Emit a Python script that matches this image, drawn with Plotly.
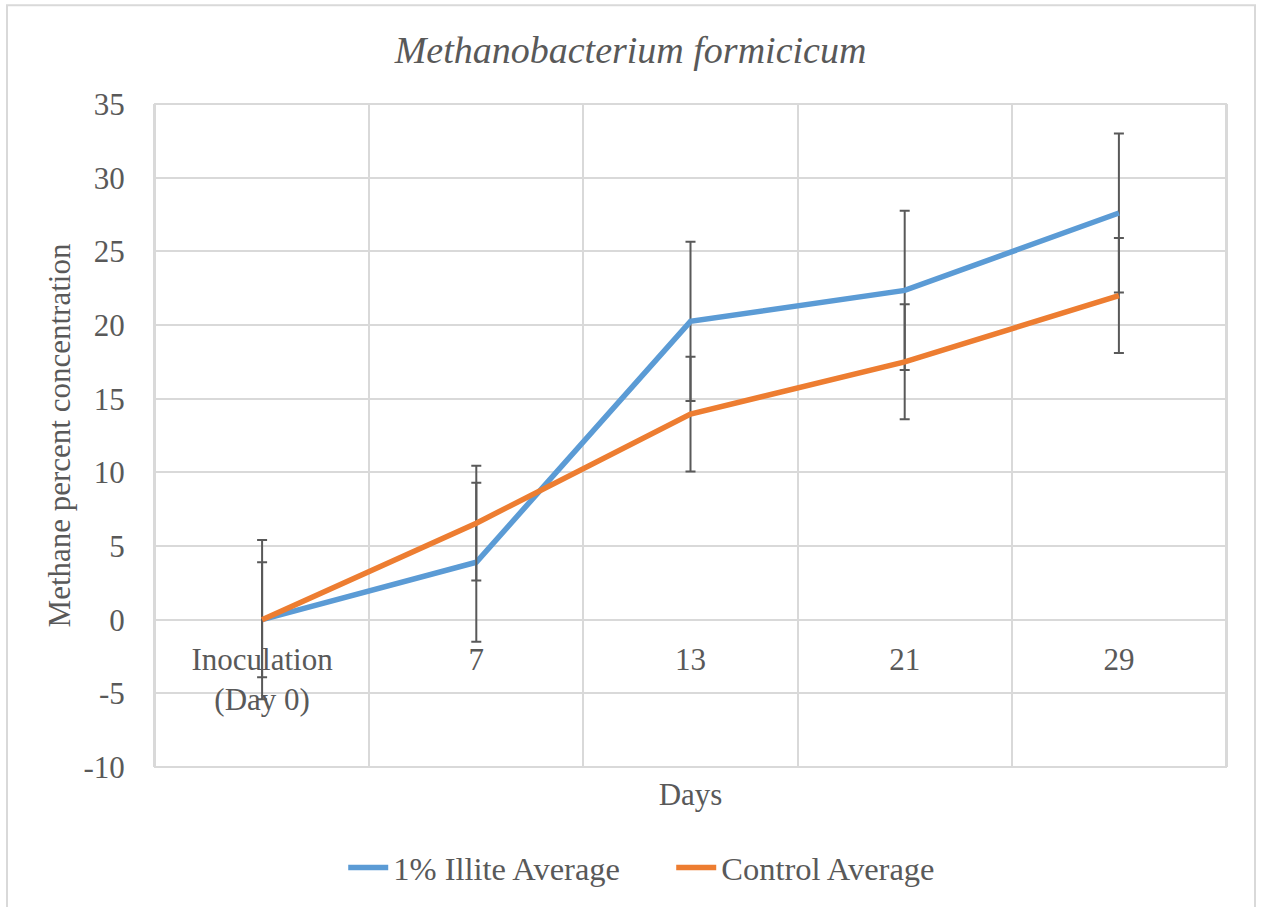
import plotly.graph_objects as go

categories = ["Inoculation<br>(Day 0)", "7", "13", "21", "29"]
illite_avg = [0.0, 3.9, 20.25, 22.35, 27.6]
control_avg = [0.0, 6.55, 13.95, 17.5, 22.0]
illite_err = 5.4
control_err = 3.9
y_ticks = [-10, -5, 0, 5, 10, 15, 20, 25, 30, 35]
y_tick_text = ["-10", "-5", "0", "5", "10", "15", "20", "25", "30", "35"]

y_min, y_max = -10, 35
font_fam = "Liberation Serif"
txt = "#595959"
grid = "#d9d9d9"

fig = go.Figure()
fig.add_trace(go.Scatter(
    x=categories, y=illite_avg, mode="lines", name="1% Illite Average",
    line=dict(color="#5B9BD5", width=5.5),
    error_y=dict(type="constant", value=illite_err, color="#595959", thickness=2, width=5),
))
fig.add_trace(go.Scatter(
    x=categories, y=control_avg, mode="lines", name="Control Average",
    line=dict(color="#ED7D31", width=5.5),
    error_y=dict(type="constant", value=control_err, color="#595959", thickness=2, width=5),
))

zero_frac = (0 - y_min) / (y_max - y_min)

fig.update_layout(
    width=1261, height=907,
    margin=dict(l=155, r=35, t=104, b=139),
    paper_bgcolor="white", plot_bgcolor="white",
    font=dict(family=font_fam, color=txt, size=31),
    title=dict(text="<i>Methanobacterium formicicum</i>", x=0.5, xanchor="center",
               y=1 - 50 / 907, yanchor="middle",
               font=dict(family=font_fam, size=38, color=txt)),
    showlegend=True,
    legend=dict(orientation="h", x=0.482, xanchor="center", y=-0.1506, yanchor="middle",
                font=dict(family=font_fam, size=32.5, color=txt), itemwidth=40,
                entrywidth=273, entrywidthmode="pixels", bgcolor="rgba(0,0,0,0)"),
    xaxis=dict(
        type="category", range=[-0.5, 4.5], tickson="boundaries",
        showgrid=True, gridcolor=grid, gridwidth=2,
        showline=False, ticks="", zeroline=False,
        anchor="free", position=zero_frac,
        ticklabelstandoff=18,
        tickfont=dict(family=font_fam, size=31, color=txt),
        title=dict(text="Days", standoff=67, font=dict(family=font_fam, size=31, color=txt)),
        automargin=False,
    ),
    yaxis=dict(
        range=[y_min, y_max], tickvals=y_ticks, ticktext=y_tick_text,
        showgrid=True, gridcolor=grid, gridwidth=2,
        zeroline=True, zerolinecolor=grid, zerolinewidth=2,
        showline=True, mirror=True, linecolor=grid, linewidth=2,
        ticks="", ticklabelstandoff=22,
        tickfont=dict(family=font_fam, size=31, color=txt),
        title=dict(text="Methane percent concentration", standoff=4,
                   font=dict(family=font_fam, size=31, color=txt)),
        automargin=False,
    ),
    shapes=[
        dict(type="rect", xref="paper", yref="paper", x0=0, x1=1, y0=0, y1=1,
             line=dict(color=grid, width=2), layer="below"),
        dict(type="rect", xref="paper", yref="paper",
             x0=(7 - 155) / 1071, x1=(1255 - 155) / 1071,
             y0=(768 - 912) / 664, y1=(768 - 5) / 664,
             line=dict(color=grid, width=2), layer="below"),
    ],
)

fig.write_html("out.html")
